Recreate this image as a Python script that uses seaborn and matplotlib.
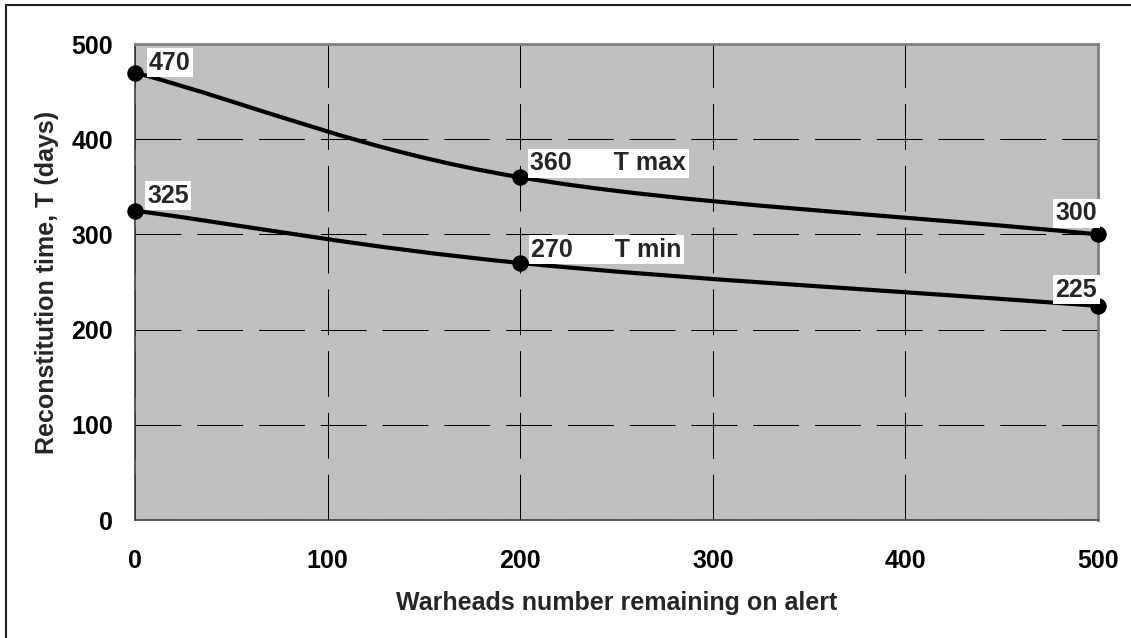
import numpy as np
import pandas as pd
import seaborn as sns
import matplotlib.pyplot as plt
from matplotlib.path import Path
from matplotlib.patches import PathPatch
from matplotlib.lines import Line2D

# data
warheads = [0, 200, 500]
t_max = [470, 360, 300]
t_min = [325, 270, 225]
x_ticks = [0, 100, 200, 300, 400, 500]
y_ticks = [0, 100, 200, 300, 400, 500]

sns.set_style('white')
plt.rcParams['font.family'] = ['Liberation Sans', 'DejaVu Sans']
plt.rcParams['font.weight'] = 'bold'
plt.rcParams['axes.labelweight'] = 'bold'

df = pd.DataFrame({'Warheads': warheads * 2,
                   'T': t_max + t_min,
                   'series': ['T max'] * 3 + ['T min'] * 3})


def smooth_path(xs, ys):
    # excel-like smoothed line: cubic bezier through the points
    pts = np.column_stack([xs, ys]).astype(float)
    n = len(pts)
    tang = np.zeros_like(pts)
    tang[0] = pts[1] - pts[0]
    tang[-1] = pts[-1] - pts[-2]
    for i in range(1, n - 1):
        tang[i] = (pts[i + 1] - pts[i - 1]) / 2
    verts = [pts[0]]
    codes = [Path.MOVETO]
    for i in range(n - 1):
        verts += [pts[i] + tang[i] / 3, pts[i + 1] - tang[i + 1] / 3, pts[i + 1]]
        codes += [Path.CURVE4] * 3
    return Path(verts, codes)


fig = plt.figure(figsize=(11.31, 6.38), dpi=100)
ax = fig.add_axes([135 / 1131, 1 - 520 / 638, 963 / 1131, 476 / 638])
ax.set_facecolor('#c0c0c0')

for name in ['T max', 'T min']:
    sub = df[df['series'] == name]
    ax.add_patch(PathPatch(smooth_path(sub['Warheads'], sub['T']), fill=False,
                           ec='black', lw=3, zorder=3, capstyle='round'))

sns.scatterplot(data=df, x='Warheads', y='T', color='black', s=140,
                edgecolor='black', linewidth=0, zorder=4, clip_on=False,
                legend=False, ax=ax)

ax.set_xlim(0, 500)
ax.set_ylim(0, 500)
ax.set_xticks(x_ticks)
ax.set_yticks(y_ticks)
ax.grid(True, color='black', lw=0.75, linestyle=(0, (44, 15.3)))
ax.set_axisbelow(True)
for s in ['left', 'bottom']:
    ax.spines[s].set_color('#404040')
    ax.spines[s].set_linewidth(1.2)
for s in ['top', 'right']:
    ax.spines[s].set_color('#808080')
    ax.spines[s].set_linewidth(2)
ax.tick_params(axis='both', direction='out', length=6, width=1, color='#404040',
               labelsize=18, labelcolor='black')
ax.tick_params(axis='y', pad=10)
ax.tick_params(axis='x', pad=15)

ax.set_xlabel('Warheads number remaining on alert', fontsize=18, labelpad=13)
ax.set_ylabel('Reconstitution time, T (days)', fontsize=18, labelpad=9)

# data labels
labels = [
    ('470', warheads[0], t_max[0], 14, 3, 'left'),
    ('325', warheads[0], t_min[0], 12, 8, 'left'),
    ('360      T max', warheads[1], t_max[1], 10, 7, 'left'),
    ('270      T min', warheads[1], t_min[1], 11, 6, 'left'),
    ('300', warheads[2], t_max[2], -1, 14, 'right'),
    ('225', warheads[2], t_min[2], -1, 9, 'right'),
]
for txt, x, y, dx, dy, ha in labels:
    ax.annotate(txt, xy=(x, y), xytext=(dx, dy), textcoords='offset pixels',
                ha=ha, va='baseline', fontsize=18, fontweight='bold', zorder=5,
                bbox=dict(boxstyle='square,pad=0.1', fc='white', ec='none'))

# outer frame of the original picture (top and left edges)
fig.add_artist(Line2D([6 / 1131, 1], [1 - 5 / 638, 1 - 5 / 638],
                      transform=fig.transFigure, color='#202020', lw=1.5))
fig.add_artist(Line2D([6 / 1131, 6 / 1131], [0, 1 - 5 / 638],
                      transform=fig.transFigure, color='#202020', lw=1.5))

fig.savefig('out.png', dpi=100)
